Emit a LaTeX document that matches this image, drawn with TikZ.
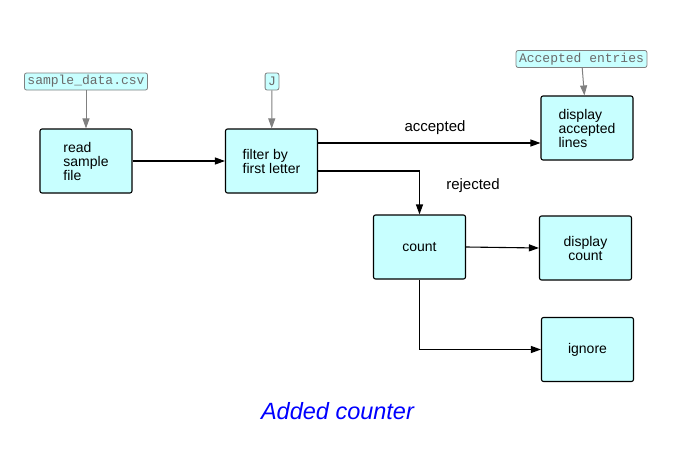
\documentclass[tikz,border=0pt]{standalone}
\usepackage{fontspec}
\setmainfont{Liberation Sans}
\newfontfamily\labelfont{Liberation Mono}
\usepackage{tikz}
\usetikzlibrary{arrows.meta}
\definecolor{boxfill}{HTML}{C8FFFF}
\definecolor{labelgray}{HTML}{6A6A6A}
\tikzset{
  stepbox/.style={draw, fill=boxfill, rounded corners=2pt, line width=1.1pt,
    minimum width=92pt, minimum height=64pt, inner sep=0pt,
    font=\fontsize{14}{14}\selectfont},
  tag/.style={draw=gray, fill=boxfill, rounded corners=2pt, line width=0.8pt,
    text=labelgray, inner xsep=3pt, inner ysep=0pt, minimum height=17pt,
    font=\labelfont\fontsize{13}{13}\selectfont},
  flow/.style={->, line width=1.1pt},
  feed/.style={->, line width=1pt, draw=gray},
  edgetext/.style={font=\fontsize{15}{15}\selectfont},
  >={Triangle[length=10pt,width=7pt]}
}
\begin{document}
\begin{tikzpicture}[x=1pt,y=-1pt]
\useasboundingbox (0,0) rectangle (673,471);
% boxes
\node[stepbox, align=left] (read) at (86,161) {read\\sample\\file};
\node[stepbox, align=left] (filter) at (271.5,161) {filter by\\first letter};
\node[stepbox, align=left] (display) at (587,128) {display\\accepted\\lines};
\node[stepbox] (count) at (419.5,247) {count};
\node[stepbox, align=center] (dcount) at (585.5,248) {display\\count};
\node[stepbox] (ignore) at (587.5,349.5) {ignore};
% inputs
\node[tag] (csv) at (86,81.5) {sample\_data.csv};
\node[tag] (letter) at (272,81.5) {J};
\node[tag] (entries) at (581.5,59) {Accepted entries};
% connectors
\draw[feed] (csv) -- (read);
\draw[feed] (letter) -- (filter);
\draw[feed] (entries) -- (display);
\draw[flow] (read) -- (filter);
\draw[flow] ([yshift=18pt]filter.east) -- ([yshift=18pt]filter.east -| display.west);
\draw[flow] ([yshift=-10pt]filter.east) -| (count.north);
\draw[flow] (count.east) -- (dcount.west);
\draw[flow] (count.south) |- (ignore.west);
\node[edgetext] (lacc) at (435,128) {accepted};
\node[edgetext] (lrej) at (473,186) {rejected};
% title
\node[anchor=base, text=blue, font=\itshape\fontsize{23.5}{23.5}\selectfont] (title) at (337.5,419) {Added counter};
\end{tikzpicture}
\end{document}
